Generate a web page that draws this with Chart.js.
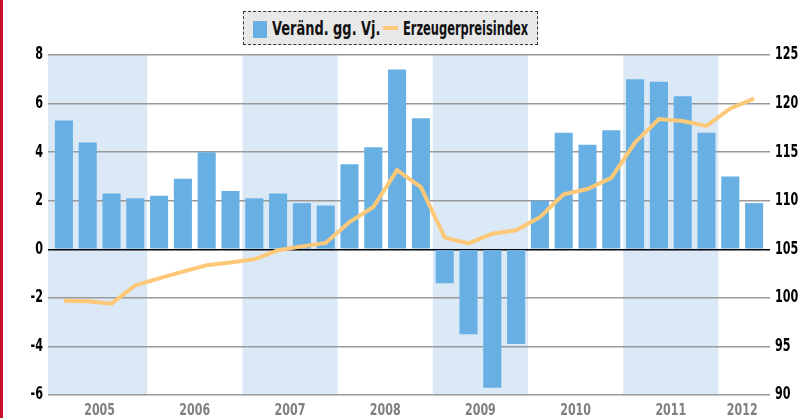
<!DOCTYPE html>
<html>
<head>
<meta charset="utf-8">
<script src="https://cdn.jsdelivr.net/npm/chart.js@4"></script>
<style>
  html,body{margin:0;padding:0;background:#fff;}
  #wrap{position:relative;width:803px;height:418px;overflow:hidden;}
  #redline{position:absolute;left:0;top:0;width:3px;height:418px;background:#c8102e;}
  #legend{position:absolute;left:243px;top:11px;width:293px;height:32px;background:#e8e8e8;border:1px dashed #333;
    font-family:"DejaVu Sans Condensed","DejaVu Sans",sans-serif;font-weight:bold;font-size:20px;color:#111;}
  .sw{position:absolute;}
  .lt{position:absolute;top:5px;white-space:nowrap;transform-origin:left center;line-height:22px;}
</style>
</head>
<body>
<div id="wrap">
  <canvas id="c" width="803" height="418"></canvas>
  <div id="redline"></div>
  <div id="legend">
    <div class="sw" style="left:9px;top:9px;width:14px;height:17px;background:#68b0e4;"></div>
    <div class="lt" style="left:28px;transform:scaleX(0.72);">Veränd. gg. Vj.</div>
    <div class="sw" style="left:139px;top:14px;width:15px;height:4px;background:#fdc877;"></div>
    <div class="lt" style="left:159px;transform:scaleX(0.635);">Erzeugerpreisindex</div>
  </div>
</div>
<script>
// ---- data ----
const years = ["2005","2006","2007","2008","2009","2010","2011","2012"];
const quarterYears = [2005,2005,2005,2005,2006,2006,2006,2006,2007,2007,2007,2007,2008,2008,2008,2008,
                      2009,2009,2009,2009,2010,2010,2010,2010,2011,2011,2011,2011,2012,2012];
const changeYoY = [5.3,4.4,2.3,2.1, 2.2,2.9,4.0,2.4, 2.1,2.3,1.9,1.8, 3.5,4.2,7.4,5.4,
                   -1.4,-3.5,-5.7,-3.9, 2.0,4.8,4.3,4.9, 7.0,6.9,6.3,4.8, 3.0,1.9];
const producerPriceIndex = [99.7,99.65,99.4,101.3, 102.0,102.7,103.35,103.65, 103.97,104.9,105.3,105.65,
                   107.8,109.35,113.15,111.4, 106.2,105.6,106.6,106.95, 108.3,110.65,111.2,112.35,
                   116.0,118.4,118.2,117.7, 119.5,120.5];
const leftTicks = [-6,-4,-2,0,2,4,6,8];
const rightTicks = [90,95,100,105,110,115,120,125];
const shadedYears = ["2005","2007","2009","2011"];

// ---- derived ----
const barPts = changeYoY.map((v,i)=>({x:i,y:v}));
const linePts = producerPriceIndex.map((v,i)=>({x:i,y:v}));
function yearIdx(y){ const idx=[]; quarterYears.forEach((q,i)=>{ if(String(q)===y) idx.push(i); }); return idx; }
const yearCenters = years.map(y=>{ const a=yearIdx(y); return (a[0]+a[a.length-1])/2; });

const FONT = '"DejaVu Sans Condensed","DejaVu Sans",sans-serif';

const bands = {
  id:'bands',
  beforeDraw(chart){
    const {ctx, chartArea:a, scales:{x}} = chart;
    ctx.save();
    ctx.fillStyle = '#dbe9f7';
    shadedYears.forEach(y=>{
      const idx = yearIdx(y);
      let x0 = x.getPixelForValue(idx[0]-0.5);
      let x1 = x.getPixelForValue(idx[idx.length-1]+0.5);
      if (idx[0]===0) x0 = a.left;
      if (idx[idx.length-1]===quarterYears.length-1) x1 = a.right;
      ctx.fillRect(x0, a.top, x1-x0, a.bottom-a.top);
    });
    ctx.restore();
  }
};

// draws the scales' tick labels with condensed glyphs
const labels = {
  id:'labels',
  afterDraw(chart){
    const {ctx, chartArea:a, scales} = chart;
    ctx.save();
    let sx = 0.73;
    ctx.font = 'bold 17px ' + FONT;
    ctx.scale(sx,1);
    ctx.textBaseline = 'middle';
    ctx.fillStyle = '#000';
    ctx.textAlign = 'right';
    scales.y.ticks.forEach(t=>{
      ctx.fillText(String(t.value), (a.left-5)/sx, scales.y.getPixelForValue(t.value));
    });
    ctx.textAlign = 'left';
    scales.y2.ticks.forEach(t=>{
      ctx.fillText(String(t.value), (a.right+5)/sx, scales.y2.getPixelForValue(t.value));
    });
    ctx.restore();
    ctx.save();
    sx = 0.77;
    ctx.font = 'bold 16px ' + FONT;
    ctx.scale(sx,1);
    ctx.textBaseline = 'middle';
    ctx.textAlign = 'center';
    ctx.fillStyle = '#808080';
    scales.x.ticks.forEach(t=>{
      const k = yearCenters.indexOf(t.value);
      if (k<0) return;
      ctx.fillText(years[k], scales.x.getPixelForValue(t.value)/sx, a.bottom+16);
    });
    ctx.restore();
  }
};

new Chart(document.getElementById('c'), {
  type:'bar',
  data:{
    datasets:[
      {type:'line', label:'Erzeugerpreisindex', data:linePts, yAxisID:'y2', xAxisID:'x',
       borderColor:'#fdc877', borderWidth:4, pointRadius:0, tension:0, order:0, fill:false},
      {type:'bar', label:'Veränd. gg. Vj.', data:barPts, yAxisID:'y', xAxisID:'x',
       backgroundColor:'#68b0e4', barPercentage:0.76, categoryPercentage:1, order:1}
    ]
  },
  plugins:[bands, labels],
  options:{
    responsive:false, animation:false,
    layout:{padding:{top:55,left:0,right:0,bottom:0}},
    plugins:{legend:{display:false}, tooltip:{enabled:false}},
    scales:{
      x:{type:'linear', min:-0.668, max:29.668, offset:false, bounds:'data', position:'bottom',
         grid:{display:false, drawTicks:false}, border:{display:false},
         afterBuildTicks(s){ s.ticks = yearCenters.map(v=>({value:v})); },
         afterFit(s){ s.height = 23; },
         ticks:{display:false}
      },
      y:{position:'left', min:-6, max:8,
         afterBuildTicks(s){ s.ticks = leftTicks.map(v=>({value:v})); },
         afterFit(s){ s.width = 48; },
         grid:{drawTicks:false, color(c){ return c.tick && c.tick.value===0 ? '#000' : '#999'; },
               lineWidth:1.5},
         border:{display:false},
         ticks:{display:false}
      },
      y2:{position:'right', min:90, max:125,
         afterBuildTicks(s){ s.ticks = rightTicks.map(v=>({value:v})); },
         afterFit(s){ s.width = 33; },
         grid:{display:false, drawTicks:false}, border:{display:false},
         ticks:{display:false}
      }
    }
  }
});
</script>
</body>
</html>
